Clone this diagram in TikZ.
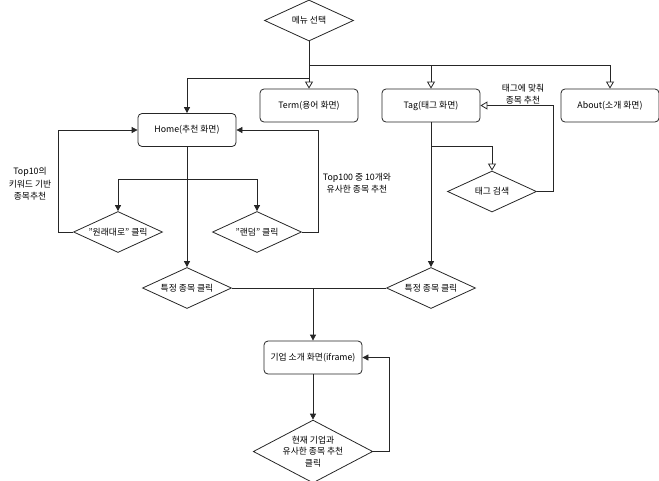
\documentclass[tikz,border=0pt]{standalone}
\usepackage{fontspec}
\setmainfont{Noto Sans CJK KR}
\usetikzlibrary{shapes.geometric,arrows.meta}
\tikzset{
  screen/.style={draw,rounded corners=4pt,minimum width=98pt,minimum height=33pt,inner sep=1pt,font=\fontsize{8.8}{11}\selectfont},
  choice/.style={draw,diamond,aspect=2.2,minimum width=89pt,minimum height=41pt,inner sep=0pt,font=\fontsize{8.8}{11}\selectfont},
  fillarr/.style={-{Triangle[length=6pt,width=6pt]}},
  openarr/.style={-{Triangle[open,length=7pt,width=8pt,fill=white]}},
  note/.style={align=center,font=\fontsize{8.8}{12.5}\selectfont}
}
\begin{document}
\begin{tikzpicture}[x=1pt,y=-1pt,line width=0.8pt,draw=black!85]
  \useasboundingbox (0,0) rectangle (659,480);
  \node[choice] (menu) at (309,20.5) {메뉴 선택};
  \node[screen] (home) at (187,130) {Home(추천 화면)};
  \node[screen] (term) at (309,105.5) {Term(용어 화면)};
  \node[screen] (tag) at (431,105.5) {Tag(태그 화면)};
  \node[screen] (about) at (610,105.5) {About(소개 화면)};
  \node[choice] (orig) at (118,232) {"원래대로" 클릭};
  \node[choice] (rand) at (257,232) {"랜덤" 클릭};
  \node[choice] (tagsearch) at (492,191.5) {태그 검색};
  \node[choice] (pickA) at (187,288) {특정 종목 클릭};
  \node[choice] (pickB) at (431,288) {특정 종목 클릭};
  \node[screen] (company) at (313,357.5) {기업 소개 화면(iframe)};
  \node[choice,aspect=1.9,minimum width=109pt,minimum height=57pt,align=center,font=\fontsize{8.8}{11.5}\selectfont] (similar) at (313,451.5) {현재 기업과\\유사한 종목 추천\\클릭};
  \node[note] (lblTop) at (30,184) {Top10의\\키워드 기반\\종목추천};
  \node[note] (lblSim) at (357,183) {Top100 중 10개와\\유사한 종목 추천};
  \node[note] (lblTag) at (523,94) {태그에 맞춰\\종목 추천};
  \coordinate (bar) at (309,65);
  \coordinate (homebar) at (309,78);
  \coordinate (hsplit) at (187,179);
  \coordinate (tsplit) at (431,146);
  \coordinate (merge) at (313,288);
  \draw[openarr] (menu.south) -- (term.north);
  \draw[openarr] (bar) -| (tag.north);
  \draw[openarr] (bar) -| (about.north);
  \draw[fillarr] (homebar) -| (home.north);
  \draw[fillarr] (home.south) -- (pickA.north);
  \draw[fillarr] (hsplit) -| (orig.north);
  \draw[fillarr] (hsplit) -| (rand.north);
  \draw[fillarr] (orig.west) -- ++(-15,0) |- (home.west);
  \draw[fillarr] (rand.east) -- ++(16,0) |- (home.east);
  \draw[fillarr] (tag.south) -- (pickB.north);
  \draw[openarr] (tsplit) -| (tagsearch.north);
  \draw[openarr] (tagsearch.east) -- ++(16,0) |- (tag.east);
  \draw (pickA.east) -- (pickB.west);
  \draw[fillarr] (merge) -- (company.north);
  \draw[fillarr] (company.south) -- (similar.north);
  \draw[fillarr] (similar.east) -- ++(16,0) |- (company.east);
\end{tikzpicture}
\end{document}
